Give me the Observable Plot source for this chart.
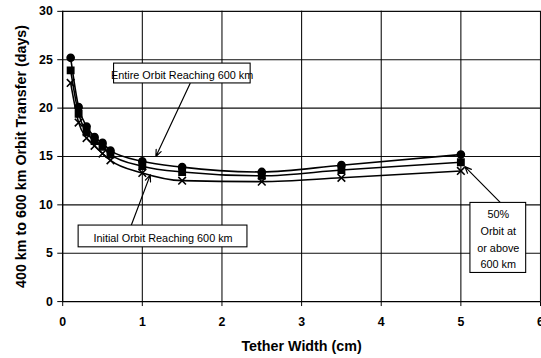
<!DOCTYPE html>
<html>
<head>
<meta charset="utf-8">
<script src="https://cdn.jsdelivr.net/npm/d3@7"></script>
<script src="https://cdn.jsdelivr.net/npm/@observablehq/plot@0.6"></script>
<style>
  html, body { margin: 0; padding: 0; background: #fff; overflow: hidden; }
  #chart { width: 541px; height: 358px; overflow: hidden; }
</style>
</head>
<body>
<div id="chart"></div>
<script>
// Tether widths (cm)
const widths = [0.1, 0.2, 0.3, 0.4, 0.5, 0.6, 1, 1.5, 2.5, 3.5, 5];
// Transfer time (days) for each criterion
const entireOrbit  = [25.2, 20.1, 18.1, 17.0, 16.4, 15.6, 14.5, 13.9, 13.4, 14.1, 15.2];
const halfOrbit    = [23.9, 19.4, 17.5, 16.6, 16.0, 15.2, 14.0, 13.4, 13.0, 13.6, 14.4];
const initialOrbit = [22.6, 18.5, 16.9, 16.1, 15.3, 14.6, 13.3, 12.5, 12.4, 12.8, 13.5];
const seriesNames  = ["Entire Orbit Reaching 600 km", "50% Orbit at or above 600 km", "Initial Orbit Reaching 600 km"];
const seriesValues = [entireOrbit, halfOrbit, initialOrbit];
const seriesSymbols = ["circle", "square", "times"];

const xTicks = [0, 1, 2, 3, 4, 5, 6];
const yTicks = [0, 5, 10, 15, 20, 25, 30];

// Annotation labels (data coordinates)
const noteText  = ["Entire Orbit Reaching 600 km", "Initial Orbit Reaching 600 km", "50%\nOrbit at\nor above\n600 km"];
const noteX     = [1.50, 1.26, 5.47];
const noteY     = [23.6, 6.73, 6.6];
const boxX1     = [0.645, 0.20, 5.12];
const boxX2     = [2.36, 2.32, 5.82];
const boxY1     = [22.55, 5.61, 2.96];
const boxY2     = [24.6, 7.86, 10.2];
const arrowX1   = [1.60, 0.86, 5.50];
const arrowY1   = [22.55, 7.86, 10.2];
const arrowX2   = [1.17, 1.10, 5.05];
const arrowY2   = [15.0, 13.1, 13.95];

const points = [];
seriesNames.forEach((name, s) => {
  widths.forEach((w, i) => points.push({series: name, symbol: seriesSymbols[s], width: w, days: seriesValues[s][i]}));
});
const notes = noteText.map((t, i) => ({
  text: t, x: noteX[i], y: noteY[i],
  x1: boxX1[i], x2: boxX2[i], y1: boxY1[i], y2: boxY2[i],
  ax1: arrowX1[i], ay1: arrowY1[i], ax2: arrowX2[i], ay2: arrowY2[i]
}));

const font = "'Liberation Sans', Arial, sans-serif";

const chart = Plot.plot({
  width: 548,
  height: 358,
  marginLeft: 63,
  marginRight: 1,
  marginTop: 11,
  marginBottom: 53,
  style: {fontFamily: font, background: "#fff", color: "#000", overflow: "visible"},
  x: {domain: [0, 6]},
  y: {domain: [0, 30]},
  marks: [
    Plot.gridX(xTicks.filter(d => d > 0), {stroke: "#000", strokeOpacity: 0.95, strokeWidth: 1.1}),
    Plot.gridY(yTicks.filter(d => d > 0), {stroke: "#000", strokeOpacity: 0.95, strokeWidth: 1.1}),
    Plot.ruleX([0], {stroke: "#000", strokeWidth: 1.4}),
    Plot.ruleY([0], {stroke: "#000", strokeWidth: 1.4}),
    Plot.axisX(xTicks, {tickSize: 5, tickPadding: 11, fontSize: 12.5, fontWeight: "bold", tickFormat: d => String(d),
      label: "Tether Width (cm)", labelAnchor: "center", labelArrow: "none", labelOffset: 50}),
    Plot.axisY(yTicks, {tickSize: 5, tickPadding: 5, fontSize: 12.5, fontWeight: "bold", tickFormat: d => String(d),
      label: "400 km to 600 km Orbit Transfer (days)", labelAnchor: "center", labelArrow: "none", labelOffset: 47}),
    Plot.line(points, {x: "width", y: "days", z: "series", stroke: "#000", strokeWidth: 1.6, curve: "monotone-x"}),
    Plot.dot(points, {x: "width", y: "days", symbol: "symbol", r: 3.6, fill: d => d.symbol === "times" ? "none" : "#000", stroke: "#000", strokeWidth: 1.6}),
    Plot.arrow(notes, {x1: "ax1", y1: "ay1", x2: "ax2", y2: "ay2", stroke: "#000", strokeWidth: 1.2, headLength: 9, headAngle: 45}),
    Plot.rect(notes, {x1: "x1", x2: "x2", y1: "y1", y2: "y2", fill: "#fff", stroke: "#000", strokeWidth: 1.1}),
    Plot.text(notes, {x: "x", y: "y", text: "text", fontSize: 11, fill: "#000", lineHeight: 1.55})
  ]
});

d3.select(chart).selectAll("[aria-label='x-axis label'] text, [aria-label='y-axis label'] text, [aria-label='x-axis label'], [aria-label='y-axis label']")
  .style("font-weight", "bold").style("font-size", "14.5px");

document.getElementById("chart").appendChild(chart);
</script>
</body>
</html>
